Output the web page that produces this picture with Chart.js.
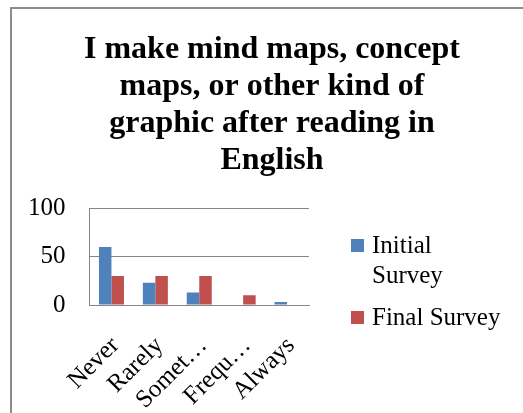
<!DOCTYPE html>
<html>
<head>
  <title>Chart</title>
<script src="https://cdn.jsdelivr.net/npm/chart.js"></script>
<style>
body { margin: 0; background: #fff; }
#wrap { position: relative; width: 523px; height: 413px; overflow: hidden; }
#frame {
  position: absolute; left: 10px; top: 7px; width: 600px; height: 500px;
  border-left: 2px solid #8c8c8c; border-top: 2px solid #8c8c8c;
}
#myChart { position: absolute; left: 0; top: 0; }
#legend {
  position: absolute; left: 351px; top: 230px; width: 170px;
  font-family: 'Liberation Serif', 'Times New Roman', serif; font-size: 25px; line-height: 30px; color: #000;
}
.item { display: flex; align-items: flex-start; margin-bottom: 12px; }
.box { width: 13px; height: 13px; margin-top: 9px; margin-right: 8px; flex: none; }
.txt { max-width: 133px; }
</style>
</head>
<body>
<div id="wrap">
  <div id="frame"></div>
  <canvas id="myChart" width="523" height="413"></canvas>
  <div id="legend"></div>
</div>
<script>
const categories = ['Never', 'Rarely', 'Sometimes', 'Frequently', 'Always'];
const initialSurvey = [60, 23, 13, 0, 3];
const finalSurvey = [30, 30, 30, 10, 0];
const titleLines = ['I make mind maps, concept', 'maps, or other kind of', 'graphic after reading in', 'English'];
const yTicks = [0, 50, 100];

const serif = "'Liberation Serif', 'Times New Roman', serif";

const data = {
  labels: categories,
  datasets: [
    {
      label: 'Initial Survey',
      data: initialSurvey,
      backgroundColor: '#4F81BD'
    },
    {
      label: 'Final Survey',
      data: finalSurvey,
      backgroundColor: '#C0504D'
    }
  ]
};

const config = {
  type: 'bar',
  data: data,
  options: {
    responsive: false,
    animation: false,
    datasets: {
      bar: { categoryPercentage: 0.57, barPercentage: 1.0 }
    },
    layout: {
      padding: { left: 4, right: -17, top: 31, bottom: 0 }
    },
    plugins: {
      legend: { display: false },
      tooltip: { enabled: false },
      title: {
        display: true,
        text: titleLines,
        color: '#000',
        font: { family: serif, size: 32, weight: 'bold', lineHeight: 1.16 },
        padding: { top: 0, bottom: 29 }
      }
    },
    scales: {
      x: {
        grid: { display: false, drawTicks: false },
        border: { color: '#868686' },
        afterFit: (scale) => { scale.height = 108; },
        ticks: {
          color: '#000',
          font: { family: serif, size: 25 },
          minRotation: 45,
          maxRotation: 45,
          autoSkip: false,
          padding: 26,
          labelOffset: 4,
          callback: function(v) {
            const s = categories[v];
            return s.length > 6 ? s.slice(0, 5) + '\u2026' : s;
          }
        }
      },
      y: {
        min: yTicks[0],
        max: yTicks[yTicks.length - 1],
        grid: { color: '#868686', drawTicks: false },
        border: { color: '#868686' },
        ticks: {
          stepSize: yTicks[1] - yTicks[0],
          color: '#000',
          font: { family: serif, size: 25 },
          padding: 24
        }
      },
      // empty right-hand axis that keeps room for the legend
      side: {
        position: 'right',
        grid: { drawOnChartArea: false, drawTicks: false },
        border: { display: false },
        ticks: { display: false },
        afterFit: (scale) => { scale.width = 231; }
      }
    }
  }
};

const myChart = new Chart(document.getElementById('myChart'), config);

// legend built from the datasets so the first label can wrap like the original
const legend = document.getElementById('legend');
myChart.data.datasets.forEach((ds) => {
  const item = document.createElement('div');
  item.className = 'item';
  const box = document.createElement('span');
  box.className = 'box';
  box.style.background = ds.backgroundColor;
  const txt = document.createElement('span');
  txt.className = 'txt';
  txt.textContent = ds.label;
  item.appendChild(box);
  item.appendChild(txt);
  legend.appendChild(item);
});
</script>
</body>
</html>
